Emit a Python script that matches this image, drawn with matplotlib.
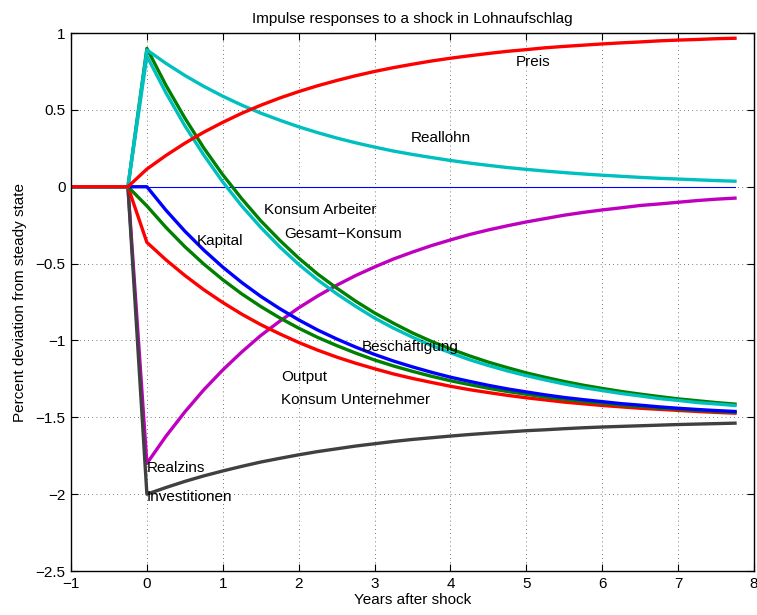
import numpy as np
import matplotlib
matplotlib.use('Agg')
import matplotlib.pyplot as plt

plt.rcParams['font.family'] = ['Liberation Sans', 'DejaVu Sans']

# ============================== Data (quarterly) ============================== #
years = np.arange(-1, 8, 0.25)          # -1 ... 7.75
pre_shock = [0.0, 0.0, 0.0, 0.0]        # t = -1 ... -0.25

preis = [0.115, 0.203, 0.283, 0.355, 0.419, 0.478, 0.530, 0.577, 0.619, 0.657, 0.691, 0.722,
         0.750, 0.775, 0.797, 0.818, 0.836, 0.852, 0.867, 0.881, 0.892, 0.904, 0.913, 0.921,
         0.929, 0.936, 0.942, 0.949, 0.954, 0.958, 0.963, 0.966]
reallohn = [0.890, 0.803, 0.724, 0.653, 0.589, 0.531, 0.479, 0.433, 0.390, 0.352, 0.317, 0.286,
            0.258, 0.232, 0.210, 0.190, 0.171, 0.154, 0.139, 0.125, 0.113, 0.102, 0.092, 0.083,
            0.075, 0.068, 0.061, 0.055, 0.050, 0.045, 0.040, 0.036]
gesamt_konsum = [0.900, 0.661, 0.447, 0.252, 0.078, -0.078, -0.221, -0.348, -0.464, -0.568,
                 -0.659, -0.744, -0.821, -0.888, -0.951, -1.006, -1.055, -1.100, -1.141, -1.177,
                 -1.211, -1.240, -1.267, -1.291, -1.312, -1.332, -1.349, -1.365, -1.380, -1.392,
                 -1.404, -1.414]
konsum_arbeiter = [0.850, 0.612, 0.397, 0.206, 0.031, -0.125, -0.264, -0.391, -0.505, -0.606,
                   -0.696, -0.778, -0.854, -0.920, -0.979, -1.033, -1.080, -1.125, -1.163, -1.198,
                   -1.229, -1.257, -1.283, -1.307, -1.326, -1.345, -1.361, -1.378, -1.390, -1.404,
                   -1.413, -1.423]
kapital = [0.0, -0.152, -0.289, -0.412, -0.523, -0.623, -0.713, -0.793, -0.866, -0.932, -0.990,
           -1.043, -1.091, -1.134, -1.172, -1.207, -1.239, -1.266, -1.292, -1.315, -1.335, -1.354,
           -1.371, -1.385, -1.398, -1.411, -1.421, -1.432, -1.441, -1.449, -1.456, -1.462]
output = [-0.125, -0.264, -0.390, -0.503, -0.605, -0.697, -0.779, -0.853, -0.920, -0.980, -1.033,
          -1.082, -1.127, -1.166, -1.201, -1.233, -1.262, -1.287, -1.311, -1.332, -1.350, -1.368,
          -1.383, -1.396, -1.408, -1.420, -1.429, -1.439, -1.447, -1.454, -1.461, -1.467]
konsum_unternehmer = [-0.362, -0.475, -0.577, -0.670, -0.753, -0.829, -0.897, -0.957, -1.013,
                      -1.063, -1.108, -1.148, -1.184, -1.218, -1.247, -1.273, -1.298, -1.320,
                      -1.339, -1.357, -1.373, -1.387, -1.401, -1.412, -1.423, -1.432, -1.441,
                      -1.448, -1.455, -1.462, -1.468, -1.473]
realzins = [-1.800, -1.624, -1.465, -1.321, -1.192, -1.075, -0.968, -0.875, -0.788, -0.711,
            -0.641, -0.578, -0.522, -0.470, -0.425, -0.383, -0.346, -0.311, -0.281, -0.254,
            -0.229, -0.207, -0.185, -0.167, -0.151, -0.137, -0.122, -0.112, -0.101, -0.090,
            -0.081, -0.074]
investitionen = [-2.000, -1.957, -1.917, -1.881, -1.849, -1.819, -1.791, -1.767, -1.744, -1.723,
                 -1.705, -1.687, -1.672, -1.657, -1.644, -1.633, -1.622, -1.612, -1.603, -1.595,
                 -1.587, -1.581, -1.574, -1.568, -1.563, -1.559, -1.555, -1.551, -1.547, -1.544,
                 -1.541, -1.538]

# label text and where it sits (x, y in data units)
labels = ['Preis', 'Reallohn', 'Konsum Arbeiter', 'Gesamt\u2212Konsum', 'Kapital',
          'Besch\u00e4ftigung', 'Output', 'Konsum Unternehmer', 'Realzins', 'Investitionen']
label_x = [4.86, 3.48, 1.54, 1.81, 0.66, 2.83, 1.77, 1.77, 0.0, 0.0]
label_y = [0.81, 0.32, -0.15, -0.305, -0.35, -1.04, -1.235, -1.39, -1.83, -2.02]

# ============================== Plot ============================== #
red = (1, 0, 0)
cyan = (0, 0.75, 0.75)
green = (0, 0.5, 0)
blue = (0, 0, 1)
magenta = (0.75, 0, 0.75)
dark = (0.25, 0.25, 0.25)

fig = plt.figure(figsize=(7.57, 6.15), dpi=100)
ax = fig.add_axes([0.0938, 0.0715, 0.9022, 0.8748])

lw = 2.4
ax.plot(years, np.zeros_like(years), color=blue, lw=0.8)
series = [
    (realzins, magenta),
    (investitionen, dark),
    (konsum_unternehmer, red),
    (output, green),
    (kapital, blue),
    (gesamt_konsum, green),
    (konsum_arbeiter, cyan),
    (reallohn, cyan),
    (preis, red),
]
for values, col in series:
    ax.plot(years, pre_shock + values, color=col, lw=lw)

for txt, x, y in zip(labels, label_x, label_y):
    ax.text(x, y, txt, fontsize=11, ha='left', va='center')

ax.set_xlim(-1, 8)
ax.set_ylim(-2.5, 1)
ax.set_xticks(range(-1, 9))
ax.set_yticks(np.arange(-2.5, 1.01, 0.5))
ax.set_yticklabels(['\u22122.5', '\u22122', '\u22121.5', '\u22121', '\u22120.5', '0', '0.5', '1'])
ax.tick_params(direction='in', top=True, right=True, length=5, labelsize=11, pad=4)
ax.grid(True, linestyle=(0, (1, 4)), color='black', lw=0.6, alpha=0.7)
for s in ax.spines.values():
    s.set_linewidth(1.0)

ax.set_title('Impulse responses to a shock in Lohnaufschlag', fontsize=11, pad=7)
ax.set_xlabel('Years after shock', fontsize=11, labelpad=2)
ax.set_ylabel('Percent deviation from steady state', fontsize=11, labelpad=6)

fig.savefig('out.png', dpi=100)
